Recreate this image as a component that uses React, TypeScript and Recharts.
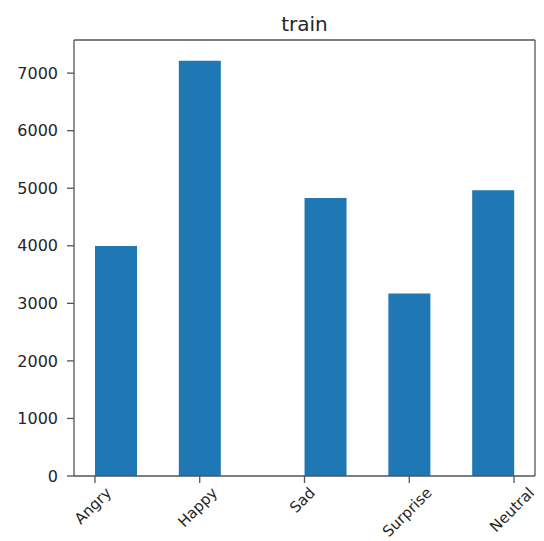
import { BarChart, Bar, XAxis, YAxis, ReferenceLine } from "recharts";

const categories = ["Angry", "Happy", "Sad", "Surprise", "Neutral"];
const counts = [3995, 7215, 4830, 3171, 4965];
const yTicks = [0, 1000, 2000, 3000, 4000, 5000, 6000, 7000];
const classTicks = [0, 1, 2, 3, 4];

// matplotlib hist() with its default 10 bins over the class indices
const NUM_BINS = 10;
const binWidth = (categories.length - 1) / NUM_BINS;

const data = categories.map((name, i) => {
  const bin = Math.min(Math.floor(i / binWidth + 1e-9), NUM_BINS - 1);
  return { name, x: (bin + 0.5) * binWidth, count: counts[i] };
});

const X_DOMAIN: [number, number] = [-0.2, 4.2];
const Y_MAX = 7576;

const FONT = "'DejaVu Sans', sans-serif";
const TEXT = "#262626";
const AXIS = "#555";

let ctx: CanvasRenderingContext2D | null = null;
function textWidth(s: string, size: number) {
  if (!ctx) ctx = document.createElement("canvas").getContext("2d");
  if (!ctx) return s.length * size * 0.6;
  ctx.font = `${size}px 'DejaVu Sans'`;
  return ctx.measureText(s).width;
}

function RotatedTick(props: any) {
  const { x, y, payload } = props;
  const label = categories[payload.value];
  const size = 15;
  const w = textWidth(label, size);
  // rotated box is centred under the tick, like ha="center" in matplotlib
  const half = ((w + size * 0.8) * Math.SQRT1_2) / 2;
  const cy = y + 1 + half;
  return (
    <text
      x={x - 2}
      y={cy}
      textAnchor="middle"
      dominantBaseline="central"
      fontSize={size}
      fontFamily={FONT}
      fill={TEXT}
      transform={`rotate(-45, ${x - 2}, ${cy})`}
    >
      {label}
    </text>
  );
}

export default function App() {
  return (
    <div style={{ position: "absolute", left: 0, top: 0, width: 544, height: 541, background: "#fff" }}>
      <div
        style={{
          position: "absolute",
          left: 74,
          top: 12,
          width: 461,
          height: 24,
          lineHeight: "24px",
          textAlign: "center",
          fontFamily: FONT,
          fontSize: 20,
          color: TEXT,
        }}
      >
        train
      </div>
      <BarChart
        width={544}
        height={541}
        data={data}
        margin={{ top: 40, right: 9, bottom: 0, left: 0 }}
      >
        <XAxis
          type="number"
          dataKey="x"
          domain={X_DOMAIN}
          ticks={classTicks}
          interval={0}
          height={65}
          tickSize={7}
          tick={<RotatedTick />}
          stroke={AXIS}
          strokeWidth={1.3}
          allowDataOverflow
        />
        <YAxis
          domain={[0, Y_MAX]}
          ticks={yTicks}
          width={74}
          tickSize={7}
          tickMargin={9}
          tick={{ fontSize: 16, fontFamily: FONT, fill: TEXT }}
          stroke={AXIS}
          strokeWidth={1.3}
          allowDataOverflow
        />
        <ReferenceLine y={Y_MAX} stroke={AXIS} strokeWidth={1.3} />
        <ReferenceLine x={X_DOMAIN[1]} stroke={AXIS} strokeWidth={1.3} />
        <Bar dataKey="count" fill="#1f77b4" barSize={42} isAnimationActive={false} />
      </BarChart>
    </div>
  );
}
